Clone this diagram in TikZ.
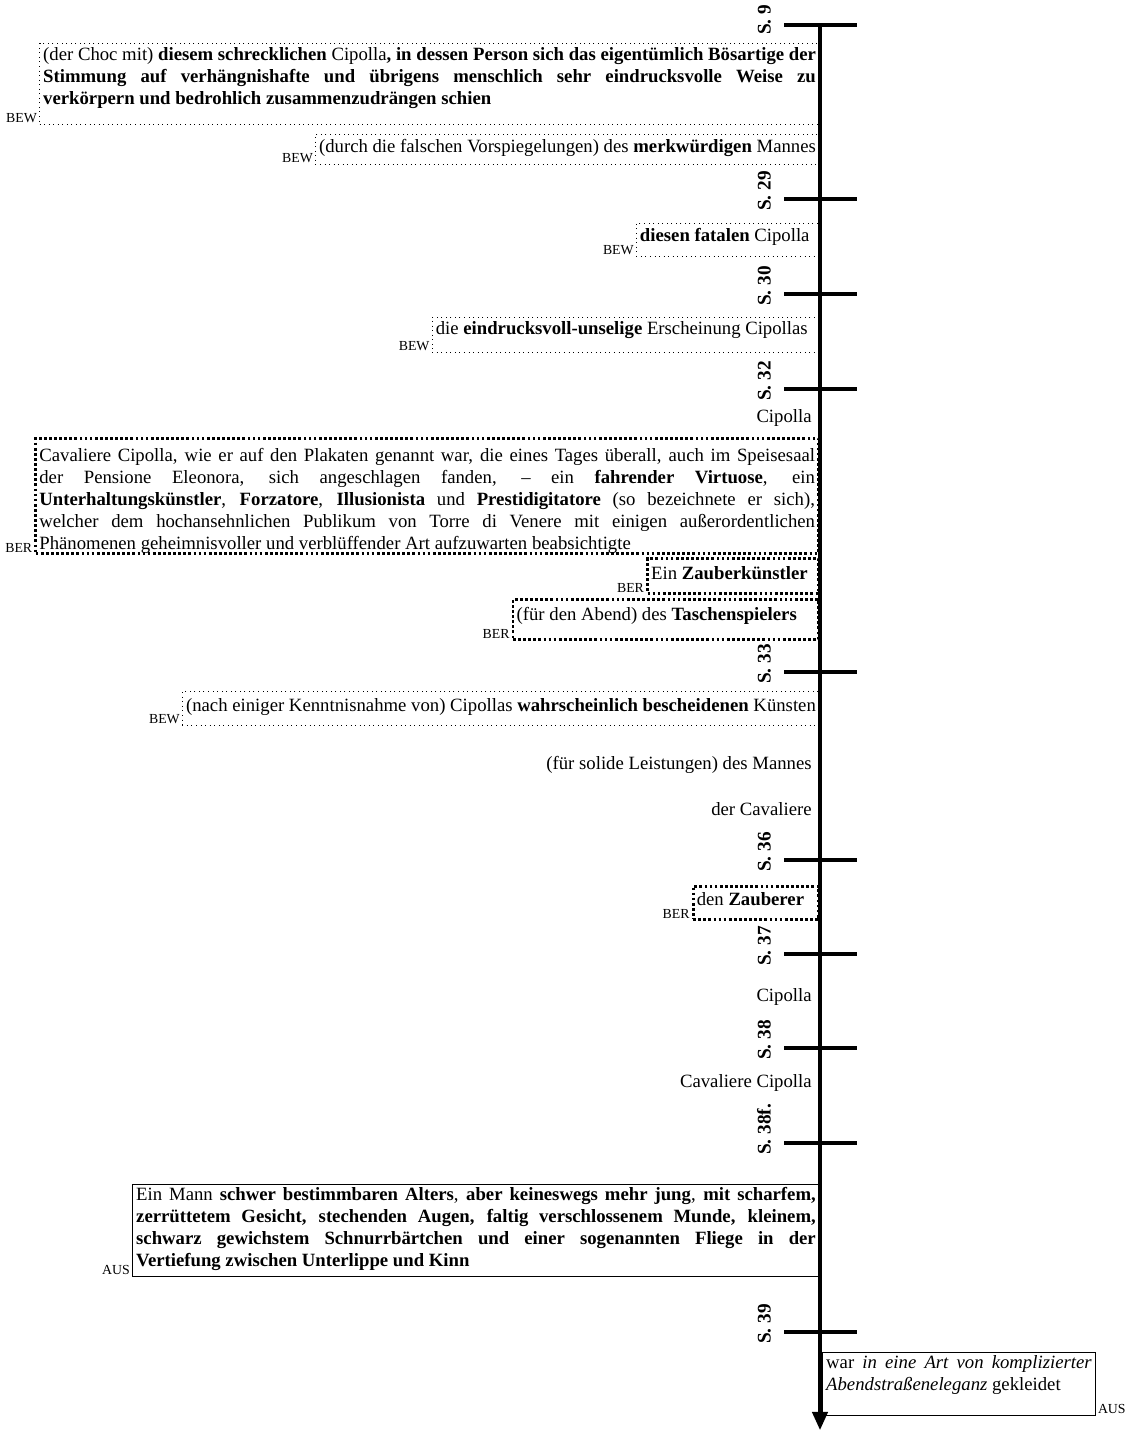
\documentclass[tikz,border=0pt]{standalone}
\usepackage{fontspec}
\setmainfont{Liberation Serif}
\usepackage{tikz}
\usetikzlibrary{arrows.meta,positioning}

\begin{document}
\begin{tikzpicture}[
  x=0.55pt,y=-0.55pt,
  every node/.style={font=\fontsize{10.3}{12.1}\selectfont},
  bew/.style={draw,dotted,line width=0.5pt,anchor=north east,inner sep=2pt},
  ber/.style={draw,line width=1.5pt,dash pattern=on 1.5pt off 1.3pt,
    anchor=north east,inner sep=2pt},
  aus/.style={draw,line width=0.6pt,anchor=north east,inner sep=2pt},
  jbox/.style={text width=#1,align=justify},
  tag/.style={font=\fontsize{7.6}{9}\selectfont,inner sep=1pt},
  plain/.style={anchor=base east,inner sep=0pt},
  pg/.style={font=\fontsize{10.6}{12}\bfseries,rotate=90,anchor=south west,inner sep=1pt},
  axis/.style={line width=1.8pt,-{Triangle[length=10pt,width=8.5pt]}},
  tickmark/.style={line width=1.8pt}
]
\useasboundingbox (0,0) rectangle (1129,1444);

% time axis
\coordinate (start) at (820,25);
\coordinate (end) at (820,1430);
\draw[axis] (start) -- (end);

% page marks
\draw[tickmark] (784,25) -- (857,25);     \node[pg] (s9) at (773,37) {S. 9};
\draw[tickmark] (784,199) -- (857,199);   \node[pg] (s29) at (773,213) {S. 29};
\draw[tickmark] (784,294) -- (857,294);   \node[pg] (s30) at (773,308) {S. 30};
\draw[tickmark] (784,389) -- (857,389);   \node[pg] (s32) at (773,403) {S. 32};
\draw[tickmark] (784,672) -- (857,672);   \node[pg] (s33) at (773,686) {S. 33};
\draw[tickmark] (784,860) -- (857,860);   \node[pg] (s36) at (773,874) {S. 36};
\draw[tickmark] (784,954) -- (857,954);   \node[pg] (s37) at (773,968) {S. 37};
\draw[tickmark] (784,1048) -- (857,1048); \node[pg] (s38) at (773,1062) {S. 38};
\draw[tickmark] (784,1143) -- (857,1143); \node[pg] (s38f) at (773,1157) {S. 38f.};
\draw[tickmark] (784,1332) -- (857,1332); \node[pg] (s39) at (773,1346) {S. 39};

% S. 9
\node[bew,jbox=425pt,text height=7.4pt,text depth=33.2pt] (choc) at (820,43) {(der Choc mit) \textbf{diesem schrecklichen} Cipolla\textbf{, in dessen Person sich das eigentümlich Bösartige der\linebreak Stimmung auf verhängnishafte und übrigens menschlich sehr eindrucksvolle Weise zu\linebreak verkörpern und bedrohlich zusammenzudrängen schien}};
\node[tag,above left=0pt and 0pt of choc.south west] (t1) {BEW};
\node[bew,text height=7.9pt,text depth=4.6pt] (manne) at (820,134) {(durch die falschen Vorspiegelungen) des \textbf{merkwürdigen} Mannes};
\node[tag,above left=0pt and 0pt of manne.south west] (t2) {BEW};

% S. 29
\node[bew,text height=7.9pt,text depth=6.3pt] (fatal) at (820,223) {\textbf{diesen fatalen} Cipolla\hspace*{3.5pt}};
\node[tag,above left=0pt and 0pt of fatal.south west] (t3) {BEW};

% S. 30
\node[bew,text height=7.4pt,text depth=8pt] (unselig) at (820,317) {die \textbf{eindrucksvoll-unselige} Erscheinung Cipollas\hspace*{4.5pt}};
\node[tag,above left=0pt and 0pt of unselig.south west] (t4) {BEW};

% S. 32
\node[plain] (cip1) at (812,422) {Cipolla};
\node[ber,jbox=426.6pt,text height=10.6pt,text depth=48.6pt] (plakat) at (820,437) {Cavaliere Cipolla, wie er auf den Plakaten genannt war, die eines Tages überall, auch im Speisesaal\linebreak der Pensione Eleonora, sich angeschlagen fanden, – ein \textbf{fahrender Virtuose}, ein\linebreak \textbf{Unterhaltungskünstler}, \textbf{Forzatore}, \textbf{Illusionista} und \textbf{Prestidigitatore} (so bezeichnete er sich),\linebreak welcher dem hochansehnlichen Publikum von Torre di Venere mit einigen außerordentlichen\linebreak Phänomenen geheimnisvoller und verblüffender Art aufzuwarten beabsichtigte};
\node[tag,above left=0pt and 0pt of plakat.south west] (t5) {BER};
\node[ber,text height=9.5pt,text depth=5.7pt] (zauberk) at (820,557) {Ein \textbf{Zauberkünstler}\hspace*{4pt}};
\node[tag,above left=0pt and 0pt of zauberk.south west] (t6) {BER};
\node[ber,text height=9.5pt,text depth=8.4pt] (taschen) at (820,598) {(für den Abend) des \textbf{Taschenspielers}\hspace*{10pt}};
\node[tag,above left=0pt and 0pt of taschen.south west] (t7) {BER};

% S. 33
\node[bew,text height=9pt,text depth=5.7pt] (kuenste) at (820,691) {(nach einiger Kenntnisnahme von) Cipollas \textbf{wahrscheinlich bescheidenen} Künsten};
\node[tag,above left=0pt and 0pt of kuenste.south west] (t8) {BEW};
\node[plain] (leist) at (812,769) {(für solide Leistungen) des Mannes};
\node[plain] (caval) at (812,815) {der Cavaliere};

% S. 36
\node[ber,text height=8.4pt,text depth=5.7pt] (zauberer) at (820,885) {den \textbf{Zauberer}\hspace*{6pt}};
\node[tag,above left=0pt and 0pt of zauberer.south west] (t9) {BER};

% S. 37 / S. 38
\node[plain] (cip2) at (812,1001) {Cipolla};
\node[plain] (cip3) at (812,1087) {Cavaliere Cipolla};

% S. 38f.
\node[aus,jbox=373.8pt,text height=6.8pt,text depth=39.8pt] (mann) at (820,1184) {Ein Mann \textbf{schwer bestimmbaren Alters}, \textbf{aber keineswegs mehr jung}, \textbf{mit scharfem,\linebreak zerrüttetem Gesicht, stechenden Augen, faltig verschlossenem Munde, kleinem,\linebreak schwarz gewichstem Schnurrbärtchen und einer sogenannten Fliege in der\linebreak Vertiefung zwischen Unterlippe und Kinn}};
\node[tag,above left=0pt and 0pt of mann.south west] (t10) {AUS};

% S. 39
\node[aus,jbox=146pt,anchor=north west,text height=6.8pt,text depth=23.8pt] (kleid) at (822,1352) {war \textit{in eine Art von komplizierter\linebreak Abendstraßeneleganz} gekleidet};
\node[tag,above right=0pt and 0pt of kleid.south east] (t11) {AUS};
\end{tikzpicture}
\end{document}
